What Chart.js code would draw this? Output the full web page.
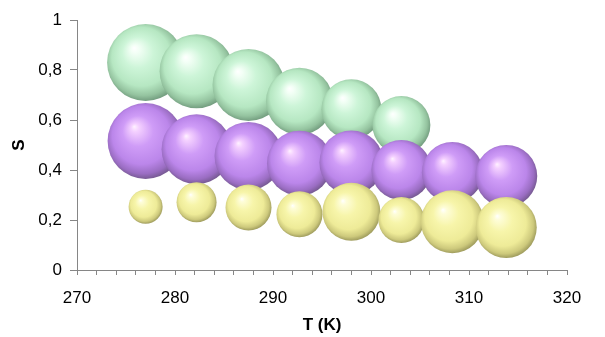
<!DOCTYPE html>
<html>
<head>
<meta charset="utf-8">
<script src="https://cdn.jsdelivr.net/npm/chart.js@4/dist/chart.umd.min.js"></script>
<style>
  html, body { margin: 0; padding: 0; background: #ffffff; }
  #wrap { width: 605px; height: 337px; }
</style>
</head>
<body>
<div id="wrap"><canvas id="c" width="605" height="337"></canvas></div>
<script>
// Temperatures (K) of the bubble columns
const temperatures = [277, 282.2, 287.5, 292.7, 298, 303.1, 308.3, 313.8];

// Series 1 (green, top row)
const greenS    = [0.83, 0.795, 0.74, 0.675, 0.643, 0.58];
const greenSize = [38.5, 37, 36, 33.5, 30, 29];

// Series 2 (purple, middle row)
const purpleS    = [0.516, 0.483, 0.456, 0.427, 0.43, 0.40, 0.39, 0.376];
const purpleSize = [38, 35, 34, 32.5, 32, 30, 30.5, 31];

// Series 3 (yellow, bottom row)
const yellowS    = [0.253, 0.271, 0.25, 0.223, 0.233, 0.2, 0.193, 0.17];
const yellowSize = [17, 20, 23, 23, 29, 23, 31.5, 30.5];

// Axis ticks
const xTickLabels = [270, 280, 290, 300, 310, 320];
const yTickLabels = [0, 0.2, 0.4, 0.6, 0.8, 1];

function points(sArr, sizeArr) {
  return sArr.map((s, i) => ({ x: temperatures[i], y: s, r: sizeArr[i] }));
}

function sphere(pal) {
  return function (ctx) {
    if (ctx.type !== 'data' || !ctx.raw) return pal.mid;
    const chart = ctx.chart;
    const xs = chart.scales.x, ys = chart.scales.y;
    if (!xs || !ys) return pal.mid;
    const cx = xs.getPixelForValue(ctx.raw.x);
    const cy = ys.getPixelForValue(ctx.raw.y);
    const r = ctx.raw.r;
    if (!isFinite(cx) || !isFinite(cy)) return pal.mid;
    const g = chart.ctx.createRadialGradient(cx - 0.3 * r, cy - 0.38 * r, 0, cx - 0.04 * r, cy - 0.06 * r, r * 1.06);
    g.addColorStop(0, pal.hi);
    g.addColorStop(0.1, pal.hi2);
    g.addColorStop(0.38, pal.light);
    g.addColorStop(0.72, pal.mid);
    g.addColorStop(0.9, pal.dark);
    g.addColorStop(1, pal.darker);
    return g;
  };
}

const greenPal  = { hi: '#ffffff', hi2: '#f3fff6', light: '#cdf5d8', mid: '#b6e7c2', dark: '#94c39f', darker: '#749e80' };
const purplePal = { hi: '#fff2ff', hi2: '#f4d0ff', light: '#cf9cf7', mid: '#bb86ea', dark: '#9a6dc2', darker: '#775a93' };
const yellowPal = { hi: '#ffffff', hi2: '#fefdd8', light: '#f7f5aa', mid: '#eeeb98', dark: '#cdc97c', darker: '#a09d5e' };

const FONT = '"Liberation Sans", Arial, sans-serif';
const AXIS = '#868686';

new Chart(document.getElementById('c'), {
  type: 'bubble',
  data: {
    datasets: [
      { label: 'green', data: points(greenS, greenSize), backgroundColor: sphere(greenPal), borderWidth: 0, order: 3, clip: false },
      { label: 'purple', data: points(purpleS, purpleSize), backgroundColor: sphere(purplePal), borderWidth: 0, order: 2, clip: false },
      { label: 'yellow', data: points(yellowS, yellowSize), backgroundColor: sphere(yellowPal), borderWidth: 0, order: 1, clip: false }
    ]
  },
  options: {
    responsive: false,
    animation: false,
    events: [],
    layout: { autoPadding: false, padding: { left: 0, top: 20, right: 38, bottom: 0 } },
    plugins: { legend: { display: false }, tooltip: { enabled: false } },
    scales: {
      x: {
        type: 'linear',
        min: xTickLabels[0],
        max: xTickLabels[xTickLabels.length - 1],
        ticks: {
          stepSize: 2,
          autoSkip: false,
          maxRotation: 0,
          color: '#000',
          padding: 13,
          font: { family: FONT, size: 17 },
          callback: (v) => xTickLabels.includes(Math.round(v * 100) / 100) ? String(v) : ''
        },
        grid: { drawOnChartArea: false, color: AXIS, tickLength: 5, lineWidth: 1 },
        border: { color: AXIS, width: 1 },
        title: { display: true, text: 'T (K)', color: '#000', font: { family: FONT, size: 17, weight: 'bold' }, padding: { top: 1, bottom: 1 } },
        afterFit: (s) => { s.height = 67; }
      },
      y: {
        type: 'linear',
        min: yTickLabels[0],
        max: yTickLabels[yTickLabels.length - 1],
        ticks: {
          stepSize: 0.2,
          color: '#000',
          padding: 8,
          font: { family: FONT, size: 17 },
          callback: (v) => String(Math.round(v * 10) / 10).replace('.', ',')
        },
        grid: { drawOnChartArea: false, color: AXIS, tickLength: 7, lineWidth: 1 },
        border: { color: AXIS, width: 1 },
        title: { display: true, text: 'S', color: '#000', font: { family: FONT, size: 17, weight: 'bold' }, padding: { top: 9, bottom: 4 } },
        afterFit: (s) => { s.width = 77; }
      }
    }
  }
});
</script>
</body>
</html>
